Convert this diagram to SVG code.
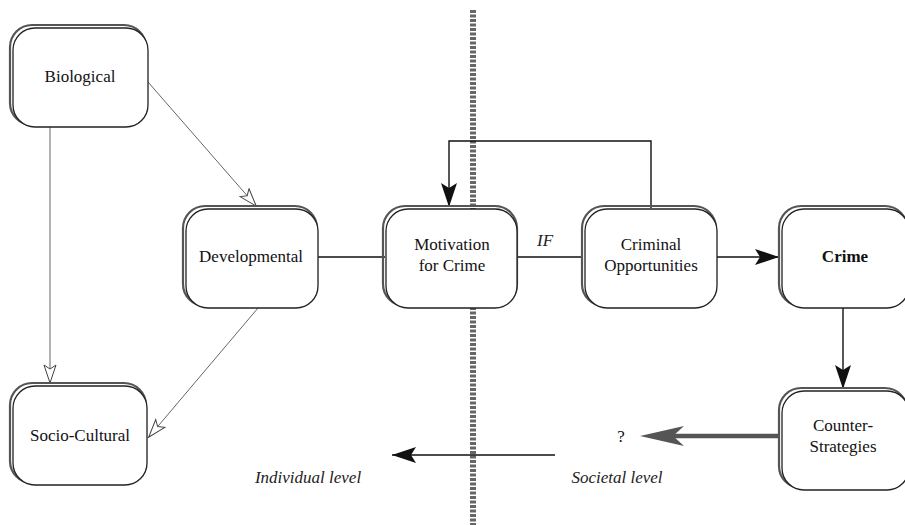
<svg xmlns="http://www.w3.org/2000/svg" width="905" height="525" viewBox="0 0 905 525">
<defs>
<style>
.sh{fill:none;stroke:#555;stroke-width:2.2}
.bx{fill:#fff;stroke:#222;stroke-width:1.3}
text{font-family:'Times New Roman','Liberation Serif',Tinos,'DejaVu Serif','Noto Serif',serif}
.t{font-size:17px;fill:#111;text-anchor:middle}
.it{font-size:17px;font-style:italic;fill:#222;text-anchor:middle}
.ln{fill:none;stroke:#111;stroke-width:1.4}
.thin{fill:none;stroke:#666;stroke-width:1}
</style>
<marker id="fa" viewBox="0 0 24 16" refX="24" refY="8" markerWidth="24" markerHeight="16" markerUnits="userSpaceOnUse" orient="auto">
<path d="M0,0 L24,8 L0,16 L5,8 Z" fill="#111"/>
</marker>
<marker id="ha" viewBox="0 0 20 14" refX="20" refY="7" markerWidth="20" markerHeight="14" markerUnits="userSpaceOnUse" orient="auto">
<path d="M1,1 L19,7 L1,13 L5,7 Z" fill="#fff" stroke="#444" stroke-width="1"/>
</marker>
</defs>

<line x1="473" y1="10" x2="473" y2="525" stroke="#666" stroke-width="6" stroke-dasharray="3,1.5"/>

<g id="connectors">
<line class="thin" x1="148" y1="82" x2="257" y2="207" marker-end="url(#ha)"/>
<line class="thin" x1="50" y1="127" x2="50" y2="384" marker-end="url(#ha)"/>
<line class="thin" x1="258" y1="308" x2="148" y2="438" marker-end="url(#ha)"/>
<line class="ln" x1="318" y1="257" x2="385" y2="257"/>
<line class="ln" x1="517" y1="257" x2="583" y2="257"/>
<polyline class="ln" points="651,208 651,141 449,141 449,207" marker-end="url(#fa)"/>
<line class="ln" x1="717" y1="257" x2="779" y2="257" marker-end="url(#fa)"/>
<line class="ln" x1="843" y1="308" x2="843" y2="389" marker-end="url(#fa)"/>
<line x1="779" y1="436" x2="660" y2="436" stroke="#555" stroke-width="4.5"/>
<path d="M640,436 L684,426 L673,436 L684,446 Z" fill="#555"/>
<line class="ln" x1="555" y1="455" x2="392" y2="455" marker-end="url(#fa)"/>
</g>

<g id="biological">
<rect class="sh" x="10" y="25" width="136" height="100" rx="22"/>
<rect class="bx" x="13" y="28" width="135" height="99" rx="22"/>
<text class="t" x="80" y="82">Biological</text>
</g>
<g id="developmental">
<rect class="sh" x="183" y="206" width="134" height="100" rx="22"/>
<rect class="bx" x="186" y="209" width="132" height="99" rx="22"/>
<text class="t" x="251" y="262">Developmental</text>
</g>
<g id="motivation">
<rect class="sh" x="383" y="206" width="134" height="100" rx="22"/>
<rect class="bx" x="386" y="209" width="131" height="99" rx="22"/>
<text class="t" x="452" y="250">Motivation</text>
<text class="t" x="452" y="271">for Crime</text>
</g>
<g id="opportunities">
<rect class="sh" x="582" y="206" width="134" height="100" rx="22"/>
<rect class="bx" x="585" y="209" width="132" height="99" rx="22"/>
<text class="t" x="651" y="250">Criminal</text>
<text class="t" x="651" y="271">Opportunities</text>
</g>
<g id="crime">
<rect class="sh" x="779" y="206" width="128" height="100" rx="22"/>
<rect class="bx" x="782" y="209" width="127" height="99" rx="22"/>
<text class="t" x="845" y="262" font-weight="bold">Crime</text>
</g>
<g id="sociocultural">
<rect class="sh" x="10" y="383" width="136" height="100" rx="22"/>
<rect class="bx" x="13" y="386" width="134" height="99" rx="22"/>
<text class="t" x="80" y="441">Socio-Cultural</text>
</g>
<g id="counter">
<rect class="sh" x="779" y="388" width="128" height="100" rx="22"/>
<rect class="bx" x="782" y="391" width="127" height="99" rx="22"/>
<text class="t" x="843" y="431">Counter-</text>
<text class="t" x="843" y="452">Strategies</text>
</g>

<g id="labels">
<text class="it" x="545" y="246">IF</text>
<text class="t" x="621" y="442">?</text>
<text class="it" x="308" y="483">Individual level</text>
<text class="it" x="617" y="483">Societal level</text>
</g>
</svg>
